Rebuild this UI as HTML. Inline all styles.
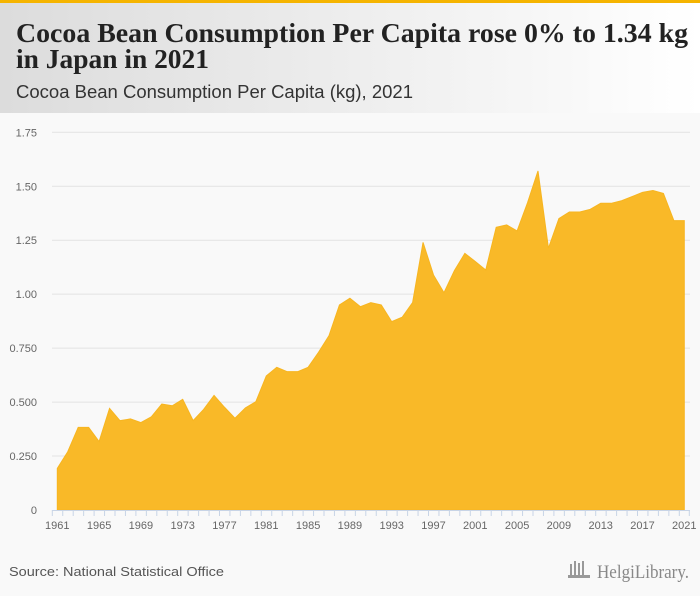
<!DOCTYPE html>
<html><head><meta charset="utf-8"><style>
html,body{margin:0;padding:0;background:#f9f9f9;}
svg{display:block;font-family:"Liberation Sans",sans-serif;}
</style></head><body>
<svg id="chart" width="700" height="596" viewBox="0 0 700 596">
<defs><linearGradient id="hg" x1="0" x2="1" y1="0" y2="0"><stop offset="0" stop-color="#dcdcdc"/><stop offset="1" stop-color="#ffffff"/></linearGradient></defs>
<rect x="0" y="0" width="700" height="596" fill="#f9f9f9"/>
<rect x="0" y="0" width="700" height="113" fill="url(#hg)"/>
<rect x="0" y="0" width="700" height="3" fill="#f5b400"/>
<text x="16" y="42" font-family="Liberation Serif, serif" font-weight="bold" font-size="27" fill="#222" textLength="672" lengthAdjust="spacingAndGlyphs">Cocoa Bean Consumption Per Capita rose 0% to 1.34 kg</text>
<text x="16" y="68" font-family="Liberation Serif, serif" font-weight="bold" font-size="27" fill="#222" textLength="193" lengthAdjust="spacingAndGlyphs">in Japan in 2021</text>
<text x="16" y="98" font-size="18" fill="#333" textLength="397" lengthAdjust="spacingAndGlyphs">Cocoa Bean Consumption Per Capita (kg), 2021</text>
<g id="grid"></g><g id="area"></g><g id="axes"></g>
<text x="9" y="576" font-size="13" fill="#555" textLength="215" lengthAdjust="spacingAndGlyphs">Source: National Statistical Office</text>
<g>
<rect x="570" y="564" width="2" height="12" fill="#999"/><rect x="574" y="561" width="2" height="15" fill="#999"/><rect x="578" y="563" width="2" height="13" fill="#999"/><rect x="582" y="561" width="2" height="15" fill="#999"/><rect x="568" y="575" width="22" height="3" fill="#999"/>
<text x="597" y="578" font-family="Liberation Serif, serif" font-size="19" fill="#888" textLength="92" lengthAdjust="spacingAndGlyphs">HelgiLibrary.</text>
</g>
</svg>
<script>
const years = [];
for (let y = 1961; y <= 2021; y++) years.push(y);
const values = [0.193,0.27,0.383,0.383,0.317,0.471,0.414,0.422,0.405,0.432,0.491,0.483,0.513,0.414,0.466,0.531,0.476,0.425,0.473,0.502,0.621,0.661,0.641,0.641,0.661,0.731,0.808,0.950,0.981,0.942,0.961,0.950,0.873,0.893,0.961,1.240,1.089,1.007,1.109,1.189,1.151,1.112,1.310,1.321,1.293,1.424,1.571,1.213,1.350,1.381,1.381,1.393,1.421,1.421,1.433,1.452,1.472,1.480,1.467,1.341,1.341];
const yTicks = [0,0.25,0.5,0.75,1,1.25,1.5,1.75];
const yTickLabels = ["0","0.250","0.500","0.750","1.00","1.25","1.50","1.75"];
const xLabelYears = [1961,1965,1969,1973,1977,1981,1985,1989,1993,1997,2001,2005,2009,2013,2017,2021];

const NS = "http://www.w3.org/2000/svg";
const x0 = 57.3, x1 = 684.3, yBase = 510, yTop = 132.3, vMax = 1.75;
const xs = yr => x0 + (yr - years[0]) * (x1 - x0) / (years[years.length-1] - years[0]);
const ys = v => yBase - v * (yBase - yTop) / vMax;
function mk(tag, attrs, parent){const e=document.createElementNS(NS,tag);for(const k in attrs)e.setAttribute(k,attrs[k]);parent.appendChild(e);return e;}
const grid=document.getElementById('grid'), area=document.getElementById('area'), axes=document.getElementById('axes');
yTicks.forEach((t,i)=>{
  if(t>0){const l=mk('line',{x1:52,x2:690,y1:ys(t),y2:ys(t),stroke:'#e3e3e3','stroke-width':1},grid);
  
  }
  const tx=mk('text',{x:37,y:ys(t)+4,'font-size':11,fill:'#666','text-anchor':'end'},axes);
  tx.textContent=yTickLabels[i];
  
  
});
let d='M'+xs(years[0])+','+ys(0);
years.forEach((yr,i)=>{d+=' L'+xs(yr).toFixed(2)+','+ys(values[i]).toFixed(2);});
d+=' L'+xs(years[years.length-1])+','+ys(0)+' Z';
const p=mk('path',{d:d,fill:'#f9b928',stroke:'#f7b520','stroke-width':1},area);


const ax=mk('line',{x1:52,x2:690,y1:yBase+0.5,y2:yBase+0.5,stroke:'#c8d4e6','stroke-width':1},axes);


years.forEach(yr=>{
  const t=mk('line',{x1:xs(yr)-5,x2:xs(yr)-5,y1:yBase,y2:yBase+6,stroke:'#c8d4e6','stroke-width':1},axes);
  
  
});
mk('line',{x1:xs(2021)+5,x2:xs(2021)+5,y1:yBase,y2:yBase+6,stroke:'#c8d4e6','stroke-width':1},axes);
xLabelYears.forEach(yr=>{
  const tx=mk('text',{x:xs(yr),y:yBase+19,'font-size':11,fill:'#666','text-anchor':'middle'},axes);
  tx.textContent=yr;
  
  
});
</script>
</body></html>
